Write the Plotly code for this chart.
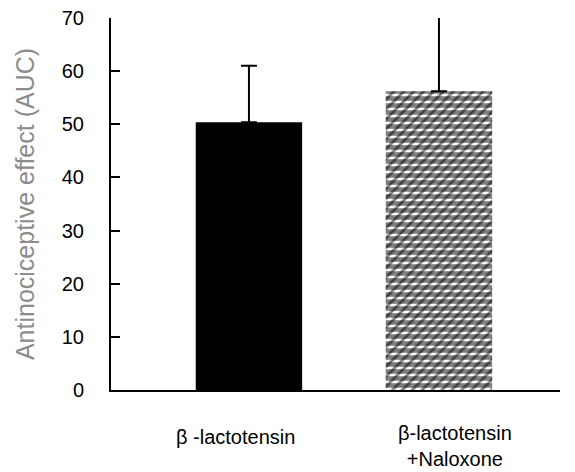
import plotly.graph_objects as go

categories = ["β -lactotensin", "β-lactotensin<br>+Naloxone"]
means = [50.4, 56.2]
errors_up = [10.6, 15.0]
y_ticks = [0, 10, 20, 30, 40, 50, 60, 70]

xpos = [0, 1]
font = "Liberation Sans, Arial, sans-serif"

fig = go.Figure()
fig.add_trace(go.Bar(
    x=xpos[:1], y=means[:1], width=0.56,
    marker=dict(color="black", line=dict(width=0)),
    error_y=dict(type="data", symmetric=False, array=errors_up[:1], arrayminus=[0],
                 color="black", thickness=2, width=8),
    showlegend=False,
))
fig.add_trace(go.Bar(
    x=xpos[1:], y=means[1:], width=0.56,
    marker=dict(color="white", line=dict(width=0),
                pattern=dict(shape="-", fgcolor="black", bgcolor="white", size=7, solidity=0.65)),
    error_y=dict(type="data", symmetric=False, array=errors_up[1:], arrayminus=[0],
                 color="black", thickness=2, width=8),
    showlegend=False,
))
fig.add_trace(go.Bar(
    x=xpos[1:], y=means[1:], width=0.56,
    marker=dict(color="rgba(0,0,0,0)", line=dict(width=0),
                pattern=dict(shape="/", fgcolor="black", bgcolor="rgba(0,0,0,0)", size=7, solidity=0.4)),
    showlegend=False, hoverinfo="skip",
))

# category labels placed under their bars
label_x = [-0.071, 1.084]
label_shift = [-47, -56]
for txt, lx, ys in zip(categories, label_x, label_shift):
    fig.add_annotation(x=lx, xref="x", y=0, yref="paper", yanchor="middle", xanchor="center",
                       yshift=ys, text=txt, showarrow=False, align="center",
                       font=dict(size=20, color="black", family=font))

fig.update_layout(
    barmode="overlay",
    width=575, height=472,
    margin=dict(l=111, r=15, t=18, b=82),
    paper_bgcolor="white", plot_bgcolor="white",
    font=dict(family=font, color="black", size=20),
)
fig.update_xaxes(
    range=[-0.726, 1.637], showgrid=False, zeroline=False,
    showline=True, linecolor="black", linewidth=2,
    showticklabels=False, ticks="", automargin=False,
)
fig.update_yaxes(
    range=[0, 70], tickvals=y_ticks, showgrid=False, zeroline=False,
    showline=True, linecolor="black", linewidth=2,
    ticks="inside", ticklen=9, tickwidth=1.5, tickcolor="black",
    tickfont=dict(size=20), ticklabelstandoff=21, automargin=False,
    title=dict(text="Antinociceptive effect (AUC)", font=dict(size=25, color="#8c8c8c"), standoff=20),
)
fig.write_html(
    "out.html",
    config={"displayModeBar": False},
    post_script="document.body.style.margin='0';document.body.style.overflow='hidden';",
)
